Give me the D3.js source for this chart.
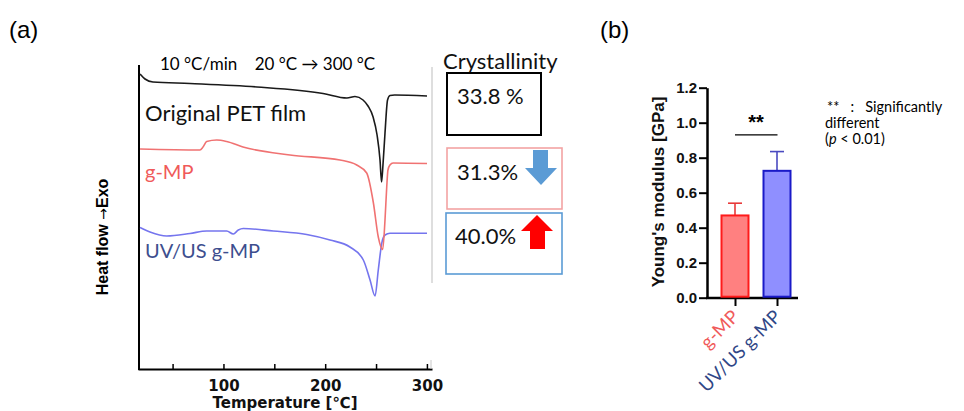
<!DOCTYPE html>
<html><head><meta charset="utf-8">
<script src="https://cdn.jsdelivr.net/npm/d3@7"></script>
<style>body{margin:0;background:#fff}svg{display:block}</style>
</head><body>
<svg id="c" width="964" height="411"></svg>
<script>
// ---- Panel (a) DSC data: temperature (°C) and heat flow (a.u.) ----
const petT  = [18.0,22.9,30.7,67.1,133.0,197.9,221.4,229.3,237.2,242.1,247.1,251.0,253.9,255.4,256.8,258.8,261.3,263.7,268.3,300.1];
const petHF = [29.5,29.0,28.7,28.55,28.2,27.55,27.1,27.25,26.9,26.3,25.2,23.4,20.9,18.7,20.4,23.6,26.9,27.35,27.4,27.3];
const gmpT  = [18.0,76.9,79.9,83.5,93.4,103.2,119.2,165.4,214.6,231.0,240.8,247.4,252.2,256.5,258.8,260.5,261.7,263.7,266.7,300.1];
const gmpHF = [22.0,21.9,22.2,22.75,22.9,22.75,22.2,21.4,20.9,20.4,19.6,16.6,13.2,11.95,14.9,18.2,19.9,20.4,20.6,20.55];
const uvT   = [18.0,27.8,44.2,67.1,83.5,103.2,109.7,114.6,119.5,149.0,181.8,204.7,224.3,237.5,244.1,249.0,252.2,255.6,258.8,263.7,300.1];
const uvHF  = [14.15,13.7,13.3,13.55,13.8,13.8,13.5,13.9,14.05,13.8,13.45,12.9,12.2,10.9,8.9,7.3,9.9,12.57,13.4,13.57,13.57];
const tempTicks = [50,100,150,200,250,300];
const tempLabels = [100,200,300];
const crystLabels = ["33.8 %","31.3%","40.0%"];
const seriesNames = ["Original PET film","g-MP","UV/US g-MP"];

// ---- Panel (b) Young's modulus ----
const barCategories = ["g-MP","UV/US g-MP"];
const barValues = [0.47,0.725];
const barErrors = [0.07,0.11];
const modTicks = [0,0.2,0.4,0.6,0.8,1.0,1.2];
const sigLevel = 0.93;

const svg = d3.select("#c");
const latin = "Lato, 'Open Sans', sans-serif";
const arial = "'Liberation Sans', Arial, sans-serif";
const verd = "'DejaVu Sans', Verdana, sans-serif";

svg.append("text").attr("x",9).attr("y",38).attr("font-family",arial).attr("font-size",24).text("(a)");
svg.append("text").attr("x",600).attr("y",38).attr("font-family",arial).attr("font-size",24).text("(b)");

// ===== Panel (a) =====
const xA = d3.scaleLinear().domain([16,305]).range([138,432]);
const yA = d3.scaleLinear().domain([0,30.4]).range([369,65]);

const gA = svg.append("g");
const axA = d3.axisBottom(xA).tickValues(tempTicks).tickSize(-5).tickSizeOuter(0)
  .tickFormat(d => tempLabels.includes(d) ? d : "");
const gx = gA.append("g").attr("transform","translate(0,369)").call(axA);
gx.select(".domain").attr("stroke","#000").attr("stroke-width",2);
gx.selectAll(".tick line").attr("stroke","#000").attr("stroke-width",1.5);
gx.selectAll(".tick text").attr("font-family",verd).attr("font-weight","bold")
  .attr("font-size",15).attr("dy",0).attr("y",22).attr("fill","#111");
gA.append("line").attr("x1",xA(16)+1).attr("x2",xA(16)+1).attr("y1",yA(30.4)).attr("y2",370)
  .attr("stroke","#000").attr("stroke-width",2);
gA.append("line").attr("x1",432).attr("x2",432).attr("y1",yA(30.4)+2).attr("y2",yA(8.6))
  .attr("stroke","#c8c8c8").attr("stroke-width",1.2);
gA.append("line").attr("x1",431).attr("x2",431).attr("y1",360).attr("y2",369)
  .attr("stroke","#c8c8c8").attr("stroke-width",1);

gA.append("text").attr("x",285).attr("y",408).attr("text-anchor","middle")
  .attr("font-family",verd).attr("font-weight","bold").attr("font-size",15)
  .attr("fill","#111").text("Temperature [℃]");
const hf = gA.append("text").attr("transform","translate(108,237) rotate(-90)").attr("text-anchor","middle")
  .attr("font-family",arial).attr("font-weight","bold").attr("font-size",16);
hf.append("tspan").text("Heat flow ");
hf.append("tspan").attr("font-family",verd).attr("font-weight","normal").attr("font-size",14).text("→");
hf.append("tspan").text("Exo");

const line = d3.line().x(d=>xA(d[0])).y(d=>yA(d[1])).curve(d3.curveMonotoneX);
const series = [
  {T:uvT,H:uvHF,c:"#7575ee"},
  {T:gmpT,H:gmpHF,c:"#f07272"},
  {T:petT,H:petHF,c:"#1a1a1a"}
];
series.forEach(s=>{
  gA.append("path").datum(s.T.map((t,i)=>[t,s.H[i]])).attr("d",line)
    .attr("fill","none").attr("stroke",s.c).attr("stroke-width",1.6).attr("stroke-linejoin","round");
});

gA.append("text").attr("x",160).attr("y",70).attr("font-family",latin).attr("font-size",17)
  .attr("xml:space","preserve").text("10 °C/min    20 °C → 300 °C");
gA.append("text").attr("x",145).attr("y",121).attr("font-family",latin).attr("font-size",22).attr("fill","#111").text(seriesNames[0]);
gA.append("text").attr("x",145).attr("y",179).attr("font-family",latin).attr("font-size",20).attr("fill","#f05a5a").text(seriesNames[1]);
gA.append("text").attr("x",145).attr("y",258).attr("font-family",latin).attr("font-size",20).attr("fill","#3d4e8e").text(seriesNames[2]);

gA.append("text").attr("x",443).attr("y",69).attr("font-family",latin).attr("font-size",22).attr("fill","#111").text("Crystallinity");
gA.append("rect").attr("x",447).attr("y",73).attr("width",94).attr("height",62).attr("fill","none").attr("stroke","#000").attr("stroke-width",2);
gA.append("rect").attr("x",447).attr("y",148).attr("width",115).attr("height",61).attr("fill","none").attr("stroke","#f3a3a3").attr("stroke-width",1.6);
gA.append("rect").attr("x",446).attr("y",213).attr("width",116).attr("height",61).attr("fill","none").attr("stroke","#5b9bd5").attr("stroke-width",1.6);
[[457,104],[457,180],[455,244]].forEach((p,i)=>{
  gA.append("text").attr("x",p[0]).attr("y",p[1]).attr("font-family",latin).attr("font-size",22).attr("fill","#111").text(crystLabels[i]);
});
gA.append("path").attr("d","M533,150 L548,150 L548,168 L557,168 L541,185 L525,168 L533,168 Z").attr("fill","#5b9bd5");
gA.append("path").attr("d","M537,215 L553,231 L545,231 L545,249 L530,249 L530,231 L521,231 Z").attr("fill","#ff0000");

// ===== Panel (b) =====
const yB = d3.scaleLinear().domain([0,1.2]).range([297.7,87.7]);
const xB = d3.scalePoint().domain(barCategories).range([735,777]);
const barW = 27;
const gB = svg.append("g");
const gyB = gB.append("g").attr("transform","translate(707,0)")
  .call(d3.axisLeft(yB).tickValues(modTicks).tickSize(8).tickSizeOuter(0).tickFormat(d3.format(".1f")));
gyB.select(".domain").attr("stroke","#000").attr("stroke-width",2.5);
gyB.selectAll(".tick line").attr("stroke","#000").attr("stroke-width",2);
gyB.selectAll(".tick text").attr("font-family",arial).attr("font-weight","bold").attr("font-size",15).attr("x",-10).attr("fill","#111");

const gxB = gB.append("g").attr("transform","translate(0,298)")
  .call(d3.axisBottom(xB).tickSize(8).tickFormat(""));
gxB.select(".domain").remove();
gxB.selectAll(".tick line").attr("stroke","#000").attr("stroke-width",2);
gB.append("line").attr("x1",706).attr("x2",798).attr("y1",298).attr("y2",298).attr("stroke","#000").attr("stroke-width",2.5);

const fills = ["#ff8080","#8f8fff"], strokes = ["#ff1a1a","#1a1ac8"], errC = ["#e83a3a","#4a4ac0"];
barCategories.forEach((c,i)=>{
  const cx = xB(c);
  gB.append("line").attr("x1",cx).attr("x2",cx).attr("y1",yB(barValues[i])).attr("y2",yB(barValues[i]+barErrors[i]))
    .attr("stroke",errC[i]).attr("stroke-width",1.6);
  gB.append("line").attr("x1",cx-7).attr("x2",cx+7).attr("y1",yB(barValues[i]+barErrors[i])).attr("y2",yB(barValues[i]+barErrors[i]))
    .attr("stroke",errC[i]).attr("stroke-width",1.6);
  gB.append("rect").attr("x",cx-barW/2).attr("y",yB(barValues[i])).attr("width",barW).attr("height",yB(0)-yB(barValues[i])-1)
    .attr("fill",fills[i]).attr("stroke",strokes[i]).attr("stroke-width",2);
});
const tickColors = ["#f05a5a","#2f4686"];
barCategories.forEach((c,i)=>{
  gB.append("text").attr("transform",`translate(${xB(c)+5},${318}) rotate(-45)`).attr("text-anchor","end")
    .attr("font-family",latin).attr("font-size",18.5).attr("fill",tickColors[i]).text(c);
});
gB.append("line").attr("x1",xB(barCategories[0])).attr("x2",xB(barCategories[1])+0.5).attr("y1",yB(sigLevel)).attr("y2",yB(sigLevel))
  .attr("stroke","#000").attr("stroke-width",1.3);
gB.append("text").attr("x",(xB(barCategories[0])+xB(barCategories[1]))/2).attr("y",yB(sigLevel)-6).attr("text-anchor","middle")
  .attr("font-family",arial).attr("font-weight","bold").attr("font-size",20).text("**");
gB.append("text").attr("transform","translate(664,192) rotate(-90)").attr("text-anchor","middle")
  .attr("font-family",arial).attr("font-weight","bold").attr("font-size",17).attr("fill","#111").text("Young's modulus [GPa]");

// note
gB.append("text").attr("x",827).attr("y",112).attr("font-family",latin).attr("font-size",14.5).attr("xml:space","preserve").text("**   :   Significantly");
gB.append("text").attr("x",825).attr("y",128).attr("font-family",latin).attr("font-size",14.5).text("different");
const t3 = gB.append("text").attr("x",825).attr("y",144).attr("font-family",latin).attr("font-size",14.5);
t3.append("tspan").text("(");
t3.append("tspan").attr("font-style","italic").text("p");
t3.append("tspan").text(" < 0.01)");
</script>
</body></html>
